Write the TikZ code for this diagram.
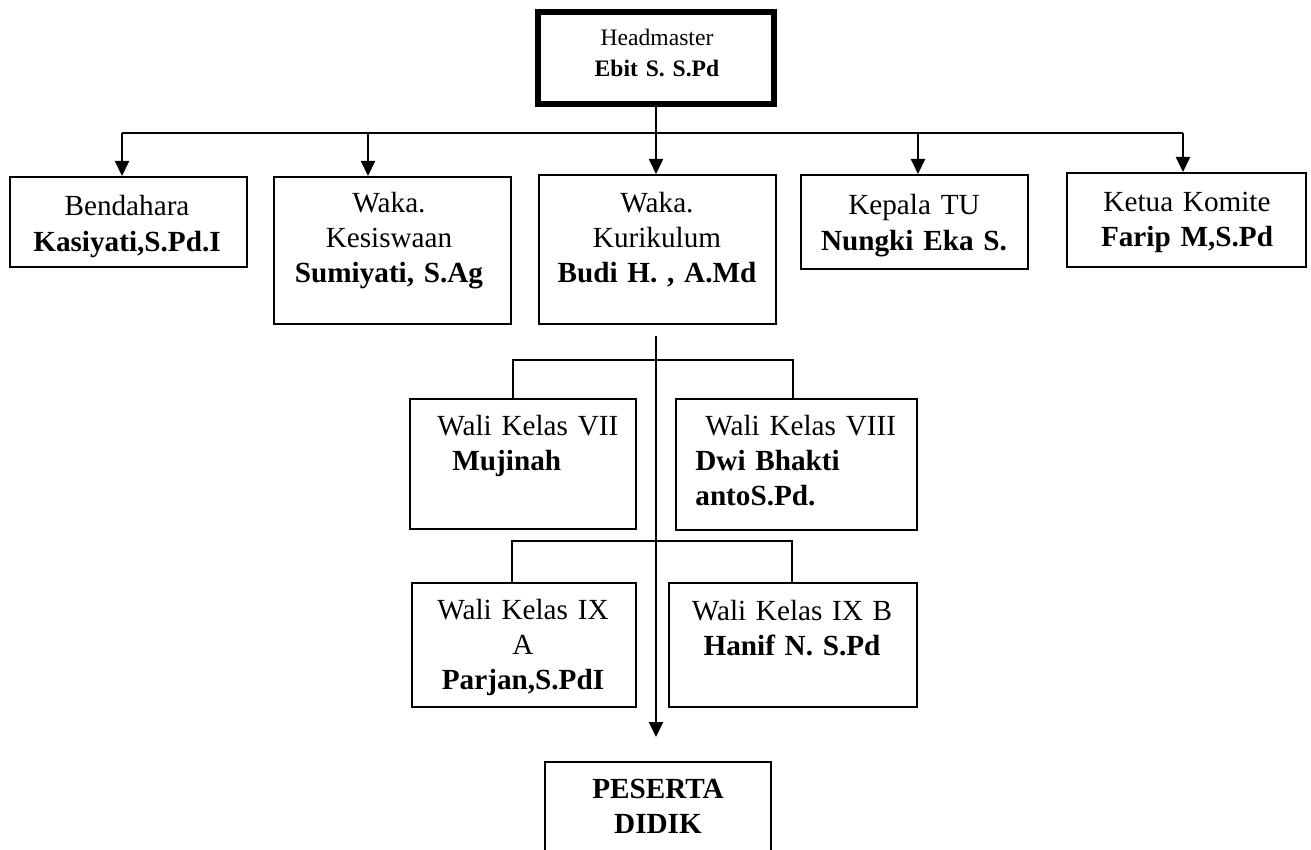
\documentclass[tikz,border=0pt]{standalone}
\usepackage{fontspec}
\setmainfont{Liberation Serif}
\usetikzlibrary{arrows.meta}

\tikzset{
  frame/.style={draw, line width=1pt, inner sep=0pt},
  txt/.style={text width=120pt, align=center, inner sep=0pt, anchor=base,
    font=\fontsize{14.6}{17.5}\selectfont},
  conn/.style={line width=1pt},
  twig/.style={line width=0.75pt},
  arr/.style={conn, -{Triangle[width=7pt,length=7.5pt]}}
}

\begin{document}
\begin{tikzpicture}[x=0.5pt,y=-0.5pt]

\path[use as bounding box, clip] (0,0) rectangle (1311,850);

\node[frame, line width=2.8pt, minimum width=118pt, minimum height=46pt] (head) at (656,58) {};
\node[txt, font=\fontsize{11.8}{15.5}\selectfont] (headtx) at (657,46) {Headmaster\\ \textbf{Ebit S. S.Pd}};

% first row
\node[frame, minimum width=118.5pt, minimum height=45pt] (bend) at (128.5,222) {};
\node[txt] (bendtx) at (127,216) {Bendahara\\ \textbf{Kasiyati,S.Pd.I}};

\node[frame, minimum width=118.5pt, minimum height=73.5pt] (kes) at (392.5,250.5) {};
\node[txt] (kestx) at (389,213) {Waka.\\ Kesiswaan\\ \textbf{Sumiyati, S.Ag}};

\node[frame, minimum width=118.5pt, minimum height=74.5pt] (kur) at (657.5,249.5) {};
\node[txt] (kurtx) at (657,213) {Waka.\\ Kurikulum\\ \textbf{Budi H. , A.Md}};

\node[frame, minimum width=113.5pt, minimum height=47pt] (ktu) at (914.5,222) {};
\node[txt] (ktutx) at (914,215) {Kepala TU\\ \textbf{Nungki Eka S.}};

\node[frame, minimum width=119.5pt, minimum height=47pt] (kom) at (1186.5,220) {};
\node[txt] (komtx) at (1187,212) {Ketua Komite\\ \textbf{Farip M,S.Pd}};

% wali kelas
\node[frame, minimum width=113pt, minimum height=65pt] (w7) at (523,464) {};
\node[txt, align=left, text width=100pt, anchor=base west] (w7tx) at (437,435) {Wali Kelas VII\\ \hspace*{7.5pt}\textbf{Mujinah}};

\node[frame, minimum width=120.5pt, minimum height=65.5pt] (w8) at (796.5,464.5) {};
\node[txt, align=left, text width=105pt, anchor=base west] (w8tx) at (695,435) {\hspace*{5pt}Wali Kelas VIII\\ \textbf{Dwi Bhakti}\\ \textbf{antoS.Pd.}};

\node[frame, minimum width=112pt, minimum height=62pt] (w9a) at (524,645) {};
\node[txt] (w9atx) at (523,619) {Wali Kelas IX\\ A\\ \textbf{Parjan,S.PdI}};

\node[frame, minimum width=124pt, minimum height=62pt] (w9b) at (793,645) {};
\node[txt] (w9btx) at (792,620) {Wali Kelas IX B\\ \textbf{Hanif N. S.Pd}};

\node[frame, minimum width=113pt, minimum height=59pt] (pd) at (658,821) {};
\node[txt] (pdtx) at (658,798) {\textbf{PESERTA}\\ \textbf{DIDIK}};

% connectors
\coordinate (hl) at (122,133);
\coordinate (hk) at (368,133);
\coordinate (ht) at (918,133);
\coordinate (hr) at (1183,133);

\draw[conn] (hl) -- (hr);
\draw[arr] (head.south) -- (head.south |- kur.north);
\draw[arr] (hl) -- (hl |- bend.north);
\draw[arr] (hk) -- (hk |- kes.north);
\draw[arr] (ht) -- (ht |- ktu.north);
\draw[arr] (hr) -- (hr |- kom.north);

\coordinate (vtop) at (656,336);
\draw[arr, shorten >=12pt] (vtop) -- (vtop |- pd.north);

\coordinate (b1l) at (513,360);
\coordinate (b1r) at (793,360);
\draw[twig] (b1l |- w7.north) -- (b1l) -- (b1r) -- (b1r |- w8.north);

\coordinate (b2l) at (512,541);
\coordinate (b2r) at (792,541);
\draw[twig] (b2l |- w9a.north) -- (b2l) -- (b2r) -- (b2r |- w9b.north);

\end{tikzpicture}
\end{document}
